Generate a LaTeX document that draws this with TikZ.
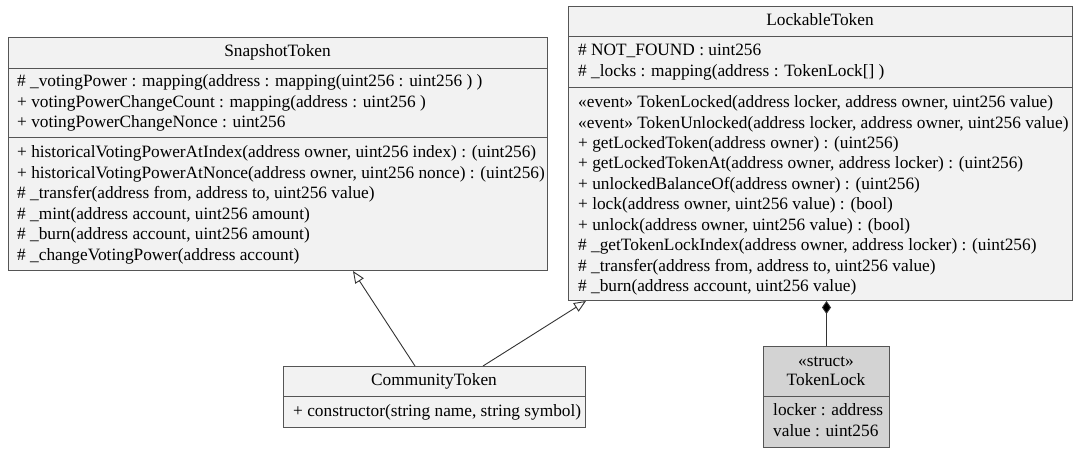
\documentclass[tikz,border=0pt]{standalone}
\usepackage{fontspec}
\setmainfont{Liberation Serif}
\usetikzlibrary{arrows.meta}
\definecolor{boxfill}{HTML}{F2F2F2}
\definecolor{structfill}{HTML}{D3D3D3}
\definecolor{boxline}{HTML}{555555}
\definecolor{wire}{HTML}{333333}
\tikzset{
  cls/.style={draw=boxline, line width=1pt, fill=boxfill, anchor=north west, inner sep=0pt},
  structcls/.style={cls, fill=structfill},
  sep/.style={draw=boxline, line width=1pt},
  row/.style={anchor=west, inner sep=0pt, text height=12pt, text depth=3.8pt, font=\fontsize{17.3}{20}\selectfont},
  title/.style={row, anchor=center},
  inherit/.style={draw=wire, line width=0.9pt, -{Triangle[open, length=12pt, width=10pt, fill=white]}},
  compose/.style={draw=wire, line width=0.9pt, {Diamond[length=13pt, width=9pt, fill=black]}-}
}
\begin{document}
\begin{tikzpicture}[x=1pt, y=-1pt]
\useasboundingbox (0,0) rectangle (1073,448);

% SnapshotToken
\node[cls, minimum width=539, minimum height=233] (st) at (8,37) {};
\draw[sep] (st.west |- 0,68) -- (st.east |- 0,68);
\draw[sep] (st.west |- 0,137.5) -- (st.east |- 0,137.5);
\node[title] (st-name) at (277.5,52.5) {SnapshotToken};
\foreach \t [count=\i] in {
  {\# \_votingPower : mapping(address : mapping(uint256 : uint256 ) )},
  {+ votingPowerChangeCount : mapping(address : uint256 )},
  {+ votingPowerChangeNonce : uint256}}
  \node[row] (st-a\i) at (17,{82.5+20.5*(\i-1)}) {\t};
\foreach \t [count=\i] in {
  {+ historicalVotingPowerAtIndex(address owner, uint256 index) : (uint256)},
  {+ historicalVotingPowerAtNonce(address owner, uint256 nonce) : (uint256)},
  {\# \_transfer(address from, address to, uint256 value)},
  {\# \_mint(address account, uint256 amount)},
  {\# \_burn(address account, uint256 amount)},
  {\# \_changeVotingPower(address account)}}
  \node[row] (st-m\i) at (17,{153.5+20.5*(\i-1)}) {\t};

% LockableToken
\node[cls, minimum width=504, minimum height=294] (lt) at (568,6) {};
\draw[sep] (lt.west |- 0,36) -- (lt.east |- 0,36);
\draw[sep] (lt.west |- 0,87.5) -- (lt.east |- 0,87.5);
\node[title] (lt-name) at (820,21) {LockableToken};
\foreach \t [count=\i] in {
  {\# NOT\_FOUND : uint256},
  {\# \_locks : mapping(address : TokenLock[] )}}
  \node[row] (lt-a\i) at (578,{51.5+20.4*(\i-1)}) {\t};
\foreach \t [count=\i] in {
  {«event» TokenLocked(address locker, address owner, uint256 value)},
  {«event» TokenUnlocked(address locker, address owner, uint256 value)},
  {+ getLockedToken(address owner) : (uint256)},
  {+ getLockedTokenAt(address owner, address locker) : (uint256)},
  {+ unlockedBalanceOf(address owner) : (uint256)},
  {+ lock(address owner, uint256 value) : (bool)},
  {+ unlock(address owner, uint256 value) : (bool)},
  {\# \_getTokenLockIndex(address owner, address locker) : (uint256)},
  {\# \_transfer(address from, address to, uint256 value)},
  {\# \_burn(address account, uint256 value)}}
  \node[row] (lt-m\i) at (578,{103.5+20.44*(\i-1)}) {\t};

% CommunityToken
\node[cls, minimum width=302, minimum height=61] (ct) at (283,366) {};
\draw[sep] (ct.west |- 0,396) -- (ct.east |- 0,396);
\node[title] (ct-name) at (434,381) {CommunityToken};
\node[row] (ct-m1) at (293,412) {+ constructor(string name, string symbol)};

% TokenLock
\node[structcls, minimum width=126, minimum height=101] (tl) at (763,346) {};
\draw[sep] (tl.west |- 0,396) -- (tl.east |- 0,396);
\node[title] (tl-st) at (826,362) {«struct»};
\node[title] (tl-name) at (826,381) {TokenLock};
\node[row] (tl-a1) at (773,411) {locker : address};
\node[row] (tl-a2) at (773,432) {value : uint256};

% relations
\draw[inherit] ([xshift=132]ct.north west) -- ([xshift=345]st.south west);
\draw[inherit] ([xshift=200]ct.north west) -- ([xshift=18]lt.south west);
\draw[compose] (lt.south -| tl.north) -- (tl.north);
\end{tikzpicture}
\end{document}
